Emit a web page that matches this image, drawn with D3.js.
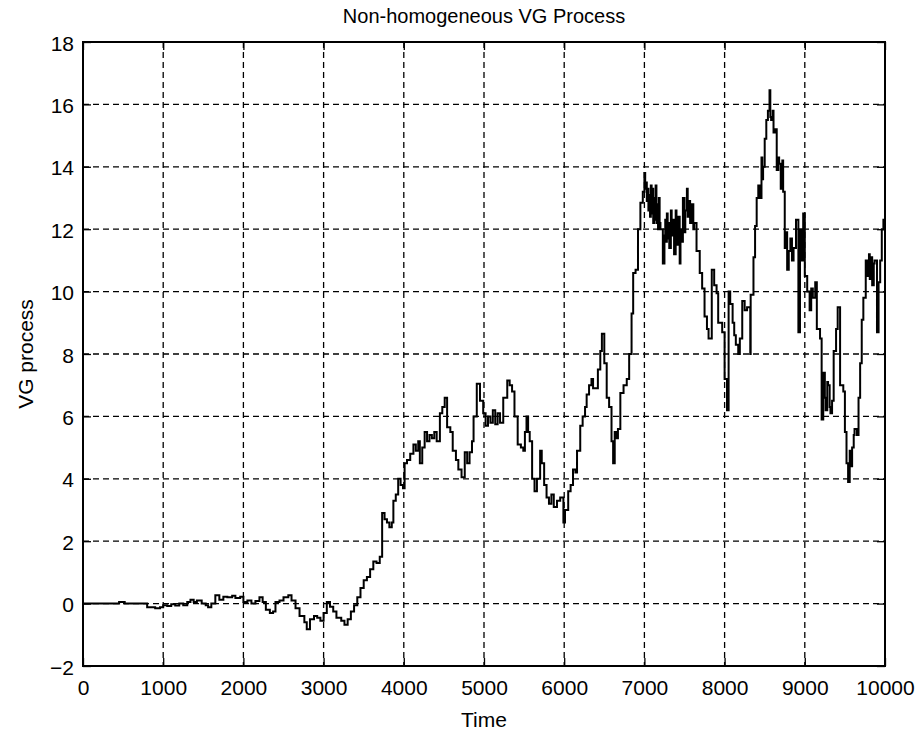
<!DOCTYPE html>
<html>
<head>
<meta charset="utf-8">
<script src="https://cdn.jsdelivr.net/npm/d3@7"></script>
<style>
  html, body { margin: 0; padding: 0; background: #fff; }
  svg { display: block; }
  text { font-family: "Liberation Sans", Arial, Helvetica, sans-serif; fill: #000; }
</style>
</head>
<body>
<svg id="chart" width="922" height="731"></svg>
<script>
const title = "Non-homogeneous VG Process";
const xLabel = "Time";
const yLabel = "VG process";
const xTicks = [0, 1000, 2000, 3000, 4000, 5000, 6000, 7000, 8000, 9000, 10000];
const yTicks = [-2, 0, 2, 4, 6, 8, 10, 12, 14, 16, 18];

const time = [
  0, 430, 450, 500, 520, 750, 800, 900, 960, 1000, 1050, 1100, 1150, 1200, 1250, 1300, 1340, 1380, 1420, 1480,
  1530, 1560, 1600, 1650, 1700, 1750, 1800, 1860, 1900, 1960, 2000, 2050, 2100, 2150, 2200, 2240, 2280, 2330, 2370, 2400,
  2450, 2500, 2560, 2600, 2650, 2700, 2760, 2790, 2830, 2880, 2920, 2960, 3000, 3040, 3080, 3120, 3160, 3220, 3260, 3300,
  3340, 3380, 3420, 3460, 3500, 3540, 3580, 3620, 3660, 3700,
  3730, 3760, 3790, 3820, 3850, 3870, 3900, 3930, 3960, 3990, 4010, 4040, 4080, 4120, 4150, 4180, 4200, 4230, 4260, 4290,
  4320, 4350, 4380, 4410, 4450, 4480, 4510, 4540, 4580, 4610, 4650, 4680, 4720, 4760, 4790, 4820, 4850, 4870, 4910, 4950,
  4990, 5020, 5050, 5080, 5110, 5140, 5170, 5200, 5240, 5290, 5320, 5350, 5380, 5420, 5460, 5490, 5510, 5530, 5550, 5570,
  5600, 5630, 5660, 5700, 5720, 5750, 5780, 5810, 5840, 5870, 5910, 5950, 5990, 6010, 6050, 6080, 6110, 6140, 6160, 6200,
  6230, 6260, 6280, 6310, 6340, 6360, 6380, 6420, 6450, 6470,
  6500, 6530, 6560, 6590, 6610, 6630, 6650, 6670, 6700, 6740, 6780, 6810, 6840, 6860, 6890, 6920, 6950, 6980, 7000, 7010,
  7020, 7030, 7040, 7050, 7060, 7070, 7080, 7090, 7100, 7110, 7120, 7130, 7140, 7150, 7160, 7170, 7180, 7190, 7200, 7230,
  7250, 7260, 7270, 7280, 7290, 7300, 7310, 7330, 7340, 7360, 7370, 7390, 7400, 7410, 7420, 7440, 7450, 7470, 7480, 7500,
  7510, 7530, 7540, 7560, 7570, 7590, 7610, 7620, 7650, 7690, 7720, 7750, 7780, 7800, 7840, 7870, 7900, 7920, 7970, 8000,
  8030, 8050, 8070, 8100, 8120, 8140, 8170, 8190, 8220, 8250, 8280, 8320, 8325, 8360, 8380, 8400, 8420, 8440, 8460, 8470,
  8480, 8500, 8520, 8540, 8560, 8570, 8580, 8600, 8610, 8630, 8650, 8670, 8680, 8700, 8720, 8730, 8750, 8770, 8780, 8800,
  8820, 8840, 8860, 8890, 8920, 8940, 8960, 8980, 9000, 9030, 9060, 9080, 9100, 9130, 9150, 9190, 9210, 9230, 9250, 9260,
  9280, 9290, 9310, 9320, 9340, 9360, 9390, 9410, 9440, 9480, 9500, 9520, 9540, 9560, 9580, 9590, 9610, 9620, 9650, 9670,
  9690, 9710, 9730, 9760, 9780, 9800, 9810, 9830, 9840, 9860, 9870, 9900, 9920, 9940, 9960, 9980, 10000
];
const value = [
  0, 0, 0.05, 0.05, 0, 0, -0.12, -0.15, -0.12, -0.05, -0.08, -0.02, -0.06, 0, -0.05, 0.05, 0.12, 0.05, 0.1, 0,
  -0.05, -0.12, 0, 0.27, 0.12, 0.22, 0.2, 0.25, 0.18, 0.22, 0.05, 0.1, 0, 0.08, 0.2, 0.05, -0.2, -0.3, -0.25, 0.05,
  0.1, 0.2, 0.27, 0.1, -0.15, -0.4, -0.6, -0.82, -0.5, -0.4, -0.45, -0.55, -0.3, 0.05, -0.1, -0.25, -0.45, -0.55, -0.68, -0.5,
  -0.25, -0.05, 0.2, 0.5, 0.75, 0.85, 1.1, 1.35, 1.3, 1.5,
  2.9, 2.7, 2.6, 2.45, 2.6, 3.3, 3.5, 4.0, 3.8, 3.7, 4.5, 4.6, 4.8, 5.1, 4.9, 5.2, 4.5, 5.0, 5.5, 5.2,
  5.4, 5.3, 5.5, 5.2, 6.1, 6.3, 6.6, 5.65, 5.5, 4.9, 4.6, 4.3, 4.05, 4.85, 4.5, 4.85, 5.2, 6.0, 7.05, 6.5,
  6.1, 5.7, 6.0, 5.8, 6.2, 5.75, 6.1, 5.8, 6.6, 7.15, 7.0, 6.8, 6.0, 5.1, 5.0, 4.9, 5.5, 6.0, 5.5, 5.2,
  4.0, 3.6, 4.0, 4.9, 4.5, 3.8, 3.4, 3.2, 3.5, 3.1, 3.3, 3.4, 2.6, 3.0, 3.6, 3.8, 4.3, 4.2, 4.9, 5.7,
  6.0, 6.3, 6.7, 7.0, 7.2, 6.9, 6.9, 7.5, 8.1, 8.65,
  7.7, 6.6, 6.3, 5.2, 4.5, 5.5, 5.3, 5.6, 6.75, 7.0, 7.2, 8.0, 9.3, 10.6, 10.7, 12.0, 12.85, 13.2, 13.8, 13.3,
  13.5, 12.9, 13.3, 12.6, 13.1, 12.4, 13.4, 12.5, 13.3, 12.2, 13.0, 12.3, 13.4, 12.2, 12.8, 12.0, 13.0, 12.2, 12.0, 10.9,
  11.8, 12.3, 11.6, 12.5, 11.7, 12.2, 11.4, 12.6, 11.8, 12.3, 11.2, 12.6, 11.7, 11.5, 12.4, 10.9, 12.0, 11.6, 13.0, 11.9,
  12.6, 13.3, 12.4, 12.9, 12.2, 12.8, 12.0, 12.2, 11.3, 10.6, 10.1, 9.2, 8.8, 8.5, 10.7, 10.2, 9.95, 9.0, 8.7, 7.2,
  6.2, 10.0, 9.6, 9.0, 8.6, 8.3, 8.0, 8.5, 9.7, 9.4, 9.5, 8.0, 9.9, 11.1, 12.1, 13.0, 13.4, 13.0, 14.3, 13.6,
  14.0, 14.9, 15.5, 15.8, 16.45, 15.6, 15.5, 15.8, 15.1, 15.2, 13.9, 14.3, 14.1, 13.3, 14.2, 13.2, 11.4, 11.9, 10.7, 11.3,
  11.7, 11.0, 11.4, 12.3, 8.7, 12.0, 11.0, 12.5, 10.5, 10.0, 9.4, 10.1, 9.8, 10.3, 8.8, 8.5, 5.9, 7.4, 6.6, 6.2,
  7.1, 7.0, 6.3, 6.1, 6.5, 8.1, 8.8, 9.5, 7.0, 6.8, 5.5, 4.5, 3.9, 4.9, 4.4, 5.0, 5.4, 5.6, 5.4, 6.6,
  7.7, 9.1, 9.8, 11.0, 10.5, 11.2, 10.4, 11.1, 10.2, 10.9, 11.0, 8.7, 10.3, 11.0, 12.0, 12.3, 12.4
];

const svg = d3.select("#chart");
const pL = 83, pR = 885, pT = 42, pB = 666;
const x = d3.scaleLinear().domain([0, 10000]).range([pL, pR]);
const y = d3.scaleLinear().domain([-2, 18]).range([pB, pT]);
const fontSize = "21px";

// grid
const grid = svg.append("g");
grid.selectAll("line.vx").data(xTicks.filter(d => d > 0 && d < 10000)).enter().append("line")
  .attr("x1", d => x(d)).attr("x2", d => x(d)).attr("y1", pT).attr("y2", pB)
  .attr("stroke", "#000").attr("stroke-width", 1.3).attr("stroke-dasharray", "6,4");
grid.selectAll("line.hy").data(yTicks.filter(d => d > -2 && d < 18)).enter().append("line")
  .attr("y1", d => y(d)).attr("y2", d => y(d)).attr("x1", pL).attr("x2", pR)
  .attr("stroke", "#000").attr("stroke-width", 1.3).attr("stroke-dasharray", "6,4");

// series
const pts = time.map((t, i) => [t, value[i]]);
svg.append("path").datum(pts)
  .attr("fill", "none").attr("stroke", "#000").attr("stroke-width", 2).attr("stroke-linejoin", "miter")
  .attr("d", d3.line().curve(d3.curveStepAfter).x(d => x(d[0])).y(d => y(d[1])));

// axes (inward ticks)
const tl = 8;
const axB = svg.append("g").attr("transform", `translate(0,${pB})`)
  .call(d3.axisBottom(x).tickValues(xTicks).tickSize(-tl).tickPadding(13).tickFormat(d3.format("d")));
const axT = svg.append("g").attr("transform", `translate(0,${pT})`)
  .call(d3.axisTop(x).tickValues(xTicks).tickSize(-tl).tickFormat(""));
const axL = svg.append("g").attr("transform", `translate(${pL},0)`)
  .call(d3.axisLeft(y).tickValues(yTicks).tickSize(-tl).tickPadding(9).tickFormat(d3.format("d")));
const axR = svg.append("g").attr("transform", `translate(${pR},0)`)
  .call(d3.axisRight(y).tickValues(yTicks).tickSize(-tl).tickFormat(""));
[axB, axT, axL, axR].forEach(a => {
  a.select(".domain").remove();
  a.selectAll(".tick line").attr("stroke", "#000").attr("stroke-width", 1.3);
  a.selectAll("text").attr("font-size", fontSize).attr("font-family", "Liberation Sans, Arial, sans-serif").attr("fill", "#000");
});
axB.selectAll("text").attr("dy", "0").attr("y", 29);
axL.selectAll("text").attr("dy", "0").attr("y", 8);

// box
svg.append("rect").attr("x", pL).attr("y", pT).attr("width", pR - pL).attr("height", pB - pT)
  .attr("fill", "none").attr("stroke", "#000").attr("stroke-width", 2);

// labels
svg.append("text").attr("x", (pL + pR) / 2).attr("y", 23).attr("text-anchor", "middle")
  .attr("font-size", "20px").text(title);
svg.append("text").attr("x", (pL + pR) / 2).attr("y", 727).attr("text-anchor", "middle")
  .attr("font-size", fontSize).text(xLabel);
svg.append("text").attr("transform", `translate(33,${(pT + pB) / 2}) rotate(-90)`).attr("text-anchor", "middle")
  .attr("font-size", fontSize).text(yLabel);
</script>
</body>
</html>
